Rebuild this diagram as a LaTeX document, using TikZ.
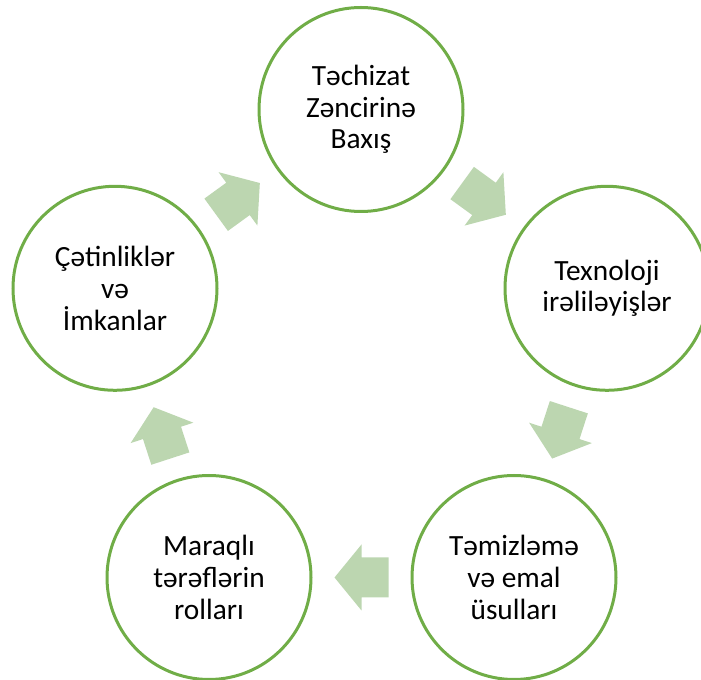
\documentclass[tikz,border=0pt]{standalone}
\usepackage{fontspec}
\setmainfont{Carlito}
\usetikzlibrary{calc}
\definecolor{ringgreen}{HTML}{70AD47}
\definecolor{arrowgreen}{RGB}{188,214,176}
% block arrow centred between two stages, turned by the given angle
\newcommand\cyclearrow[3]{%
  \begin{scope}[shift={($(#1)!0.5!(#2)$)}, rotate=#3]
    \fill[flow] (-27,-20) -- (0,-20) -- (0,-33) -- (27,0) -- (0,33) -- (0,20) -- (-27,20) -- cycle;
  \end{scope}}
\begin{document}
\begin{tikzpicture}[x=0.75pt, y=-0.75pt,
  stage/.style={circle, draw=ringgreen, line width=2.25pt, minimum size=153pt,
    inner sep=0pt, align=center, font=\fontsize{22pt}{23.8pt}\selectfont},
  flow/.style={fill=arrowgreen}]
\path[use as bounding box] (0,0) rectangle (701,680);

\node[stage] (supply) at (361,109.5) {Təchizat\\Zəncirinə\\Baxış};
\node[stage] (tech)   at (607,288.3) {Texnoloji\\irəliləyişlər};
\node[stage] (clean)  at (514,577.5) {Təmizləmə\\və emal\\üsulları};
\node[stage] (roles)  at (209,577.5) {Maraqlı\\tərəflərin\\rolları};
\node[stage] (chall)  at (115,288.3) {Çətinliklər\\və\\İmkanlar};

\cyclearrow{supply}{tech}{-36}
\cyclearrow{tech}{clean}{-108}
\cyclearrow{clean}{roles}{180}
\cyclearrow{roles}{chall}{108}
\cyclearrow{chall}{supply}{36}
\end{tikzpicture}
\end{document}
